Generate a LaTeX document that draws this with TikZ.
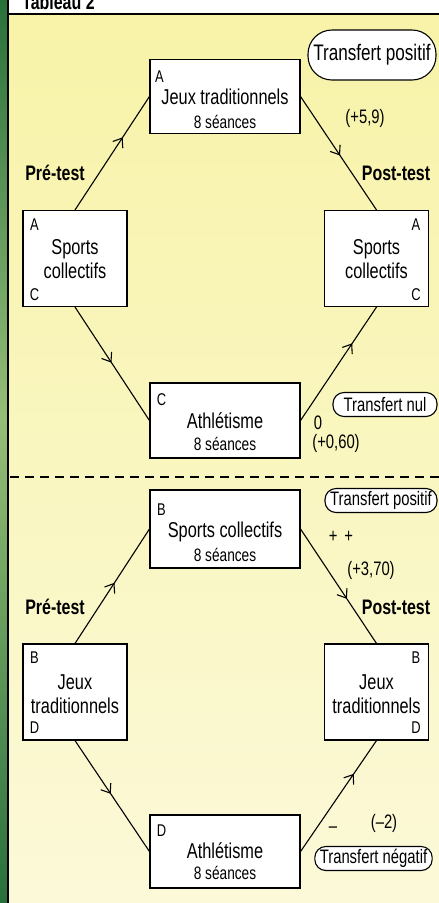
\documentclass[tikz,border=0pt]{standalone}
\usepackage{fontspec}
\setmainfont{Liberation Sans}[FakeStretch=0.76]
\usepackage{tikz}
\usetikzlibrary{calc}
\usetikzlibrary{arrows.meta}
\usetikzlibrary{decorations.markings}

\definecolor{paper}{RGB}{248,243,168}
\definecolor{paperlow}{RGB}{251,249,216}
\definecolor{leaf}{RGB}{40,112,58}
\definecolor{leaflight}{RGB}{150,190,120}

\tikzset{
  box/.style={draw, fill=white, line width=1.1pt, minimum width=150pt, minimum height=74pt, inner sep=0pt},
  sidebox/.style={draw, fill=white, line width=1.1pt, minimum width=104pt, minimum height=96pt, inner sep=0pt},
  pill/.style={draw, fill=white, line width=1.1pt, rounded corners=11pt, minimum height=24pt, inner xsep=5pt, inner ysep=0pt, font=\fontsize{19.5}{19.5}\selectfont},
  letter/.style={inner sep=0pt, font=\fontsize{17}{17}\selectfont},
  main/.style={inner sep=0pt, align=center, font=\fontsize{21.5}{24}\selectfont},
  small/.style={inner sep=0pt, font=\fontsize{18}{18}\selectfont},
  score/.style={inner sep=0pt, font=\fontsize{19.5}{19.5}\selectfont},
  phase/.style={inner sep=0pt, font=\bfseries\fontsize{21}{21}\selectfont},
  link/.style={line width=1.1pt},
  midarrow/.style={postaction={decorate}, decoration={markings,
      mark=at position #1 with {\arrow{Straight Barb[length=8pt,width=12pt,line width=1.1pt]}}}},
  midarrow/.default=0.55
}

\begin{document}
\begin{tikzpicture}[x=1pt, y=-1pt]
  \useasboundingbox (0,0) rectangle (439,903);
  \clip (0,0) rectangle (439,903);

  % frame
  \fill[white] (0,0) rectangle (439,14);
  \shade[top color=paper, bottom color=paperlow] (8,14) rectangle (439,903);
  \shade[top color=leaf, bottom color=leaflight] (0,0) rectangle (8,420);
  \shade[top color=leaflight, bottom color=leaf] (0,420) rectangle (8,903);
  \node[phase, anchor=base west] (title) at (22,9) {Tableau 2};
  \draw[line width=1.2pt] (8,14) -- (439,14);
  \draw[line width=1.2pt] (8,0) -- (8,903);
  \draw[line width=1.2pt, dash pattern=on 9pt off 6pt] (10,477) -- (439,477);

  % first group
  \node[box] (jeux) at (225,96.5) {};
  \node[sidebox] (left1) at (75,258.5) {};
  \node[sidebox] (right1) at (376.5,258.5) {};
  \node[box, minimum height=75pt] (athl1) at (225,420.5) {};

  \node[main] (jeuxT) at ($(jeux.center)+(0,0)$) {Jeux traditionnels};
  \node[small] (jeuxS) at ($(jeux.center)+(0,25)$) {8 séances};
  \node[letter] (jeuxA) at ($(jeux.north west)+(10,18)$) {A};
  \node[main] (left1T) at ($(left1.center)+(0,1)$) {Sports\\collectifs};
  \node[letter] (left1A) at ($(left1.north west)+(12,15)$) {A};
  \node[letter] (left1C) at ($(left1.south west)+(12,-12)$) {C};
  \node[main] (right1T) at ($(right1.center)+(0,1)$) {Sports\\collectifs};
  \node[letter] (right1A) at ($(right1.north east)+(-13,15)$) {A};
  \node[letter] (right1C) at ($(right1.south east)+(-13,-12)$) {C};
  \node[main] (athl1T) at ($(athl1.center)+(0,0)$) {Athlétisme};
  \node[small] (athl1S) at ($(athl1.center)+(0,23)$) {8 séances};
  \node[letter] (athl1C) at ($(athl1.north west)+(12,17)$) {C};

  \draw[link, midarrow=0.64] (left1.north) -- (jeux.west);
  \draw[link, midarrow=0.52] (jeux.east) -- (right1.north);
  \draw[link, midarrow=0.49] (left1.south) -- (athl1.west);
  \draw[link, midarrow=0.68] (athl1.east) -- (right1.south);

  \node[phase] (pre1) at (55,173) {Pré-test};
  \node[phase] (post1) at (396,173) {Post-test};
  \node[pill, rounded corners=24pt, minimum width=128pt, minimum height=50pt, font=\fontsize{22.5}{22.5}\selectfont] (pos1) at (372,55) {Transfert positif};
  \node[score] (gain1) at (365,118) {(+5,9)};
  \node[pill, minimum width=104pt] (nul1) at (385,404.5) {Transfert nul};
  \node[score] (zero1) at (318,423) {0};
  \node[score] (gain2) at (336,443) {(+0,60)};

  % second group
  \node[box, minimum height=78pt] (sport2) at (225,529) {};
  \node[sidebox] (left2) at (75,692) {};
  \node[sidebox] (right2) at (376.5,692) {};
  \node[box, minimum height=73pt] (athl2) at (225,851.5) {};

  \node[main] (sport2T) at ($(sport2.center)+(0,3)$) {Sports collectifs};
  \node[small] (sport2S) at ($(sport2.center)+(0,26)$) {8 séances};
  \node[letter] (sport2B) at ($(sport2.north west)+(12,20)$) {B};
  \node[main] (left2T) at ($(left2.center)+(0,2)$) {Jeux\\traditionnels};
  \node[letter] (left2B) at ($(left2.north west)+(12,14)$) {B};
  \node[letter] (left2D) at ($(left2.south west)+(12,-13)$) {D};
  \node[main] (right2T) at ($(right2.center)+(0,2)$) {Jeux\\traditionnels};
  \node[letter] (right2B) at ($(right2.north east)+(-13,14)$) {B};
  \node[letter] (right2D) at ($(right2.south east)+(-13,-13)$) {D};
  \node[main] (athl2T) at ($(athl2.center)+(0,-1)$) {Athlétisme};
  \node[small] (athl2S) at ($(athl2.center)+(0,21)$) {8 séances};
  \node[letter] (athl2D) at ($(athl2.north west)+(12,16)$) {D};

  \draw[link, midarrow=0.53] (left2.north) -- (sport2.west);
  \draw[link, midarrow=0.61] (sport2.east) -- (right2.north);
  \draw[link, midarrow=0.48] (left2.south) -- (athl2.west);
  \draw[link, midarrow=0.70] (athl2.east) -- (right2.south);

  \node[phase] (pre2) at (55,607) {Pré-test};
  \node[phase] (post2) at (396,607) {Post-test};
  \node[pill, minimum width=112pt] (pos2) at (381,500.5) {Transfert positif};
  \node[score] (plus2) at (341,537) {+\hspace{7pt}+};
  \node[score] (gain3) at (371,570) {(+3,70)};
  \node[score] (loss4) at (384,823) {(–2)};
  \node[score] (minus4) at (333,830) {–};
  \node[pill, minimum width=117pt] (neg4) at (373.5,858.5) {Transfert négatif};
\end{tikzpicture}
\end{document}
